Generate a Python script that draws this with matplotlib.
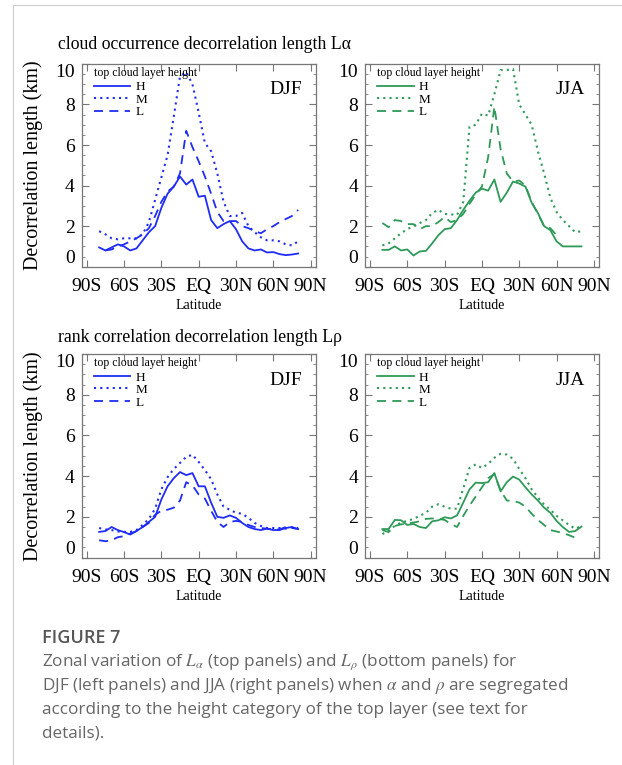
import numpy as np
import matplotlib.pyplot as plt
from matplotlib.lines import Line2D

plt.rcParams['mathtext.fontset'] = 'stix'

lat = [-80, -75, -70, -65, -60, -55, -50, -45, -40, -35, -30, -25, -20, -15, -10, -5,
       0, 5, 10, 15, 20, 25, 30, 35, 40, 45, 50, 55, 60, 65, 70, 75, 80]
nan = np.nan

# cloud occurrence decorrelation length (km), DJF
la_djf_h = [0.95, 0.8, 0.95, 1.1, 1.0, 0.8, 0.9, 1.3, 1.7, 2.0, 2.9, 3.6, 3.95, 4.45, 4.05, 4.3,
            3.45, 3.5, 2.3, 1.9, 2.1, 2.25, 1.85, 1.25, 0.9, 0.8, 0.85, 0.7, 0.72, 0.62, 0.57, 0.6, 0.65]
la_djf_m = [1.75, 1.6, 1.4, 1.35, 1.4, 1.4, 1.4, 1.6, 2.2, 3.3, 4.4, 5.5, 7.4, 9.4, 9.6, 9.0,
            7.6, 6.1, 5.7, 4.6, 3.2, 2.5, 2.5, 2.65, 2.0, 1.7, 1.45, 1.3, 1.3, 1.25, 1.1, 1.05, 1.25]
la_djf_l = [nan, 0.8, 0.85, 1.0, 1.1, 1.25, 1.4, 1.6, 1.9, 2.5, 3.2, 3.7, 3.95, 4.6, 6.7, 5.9,
            5.2, 4.45, 3.6, 2.7, 2.25, 2.25, 2.25, 2.0, 1.9, 1.75, 1.65, 1.85, 2.0, 2.2, 2.35, 2.5, 2.8]

# cloud occurrence decorrelation length (km), JJA
la_jja_h = [0.83, 0.83, 1.0, 0.8, 0.85, 0.55, 0.75, 0.78, 1.15, 1.55, 1.85, 1.9, 2.3, 2.8, 3.25, 3.65,
            3.85, 3.75, 4.3, 3.2, 3.65, 4.2, 4.1, 3.95, 3.15, 2.65, 2.0, 1.8, 1.25, 1.0, 1.0, 1.0, 1.0]
la_jja_m = [1.05, 1.15, 1.4, 1.65, 1.85, 2.0, 2.15, 2.3, 2.65, 2.8, 2.6, 2.58, 2.55, 3.2, 6.9, 7.0,
            7.55, 7.45, 8.5, 9.7, 9.7, 9.75, 8.0, 7.5, 7.0, 5.7, 4.6, 3.4, 2.7, 2.3, 2.0, 1.7, 1.75]
la_jja_l = [2.15, 1.95, 2.3, 2.25, 2.1, 2.1, 1.85, 2.0, 2.0, 2.2, 2.45, 2.2, 2.3, 2.6, 3.1, 3.55,
            3.95, 5.4, 7.9, 5.8, 4.6, 4.2, 4.25, 4.0, 3.2, 2.6, 2.0, 1.9, 1.55, nan, nan, nan, nan]

# rank correlation decorrelation length (km), DJF
lr_djf_h = [1.26, 1.3, 1.5, 1.35, 1.25, 1.13, 1.3, 1.5, 1.75, 2.0, 2.85, 3.5, 3.9, 4.2, 4.05, 4.15,
            3.5, 3.5, 2.7, 2.0, 1.95, 2.07, 1.95, 1.7, 1.5, 1.4, 1.35, 1.42, 1.35, 1.35, 1.45, 1.5, 1.4]
lr_djf_m = [1.45, 1.38, 1.35, 1.28, 1.26, 1.26, 1.35, 1.6, 1.9, 2.4, 3.35, 3.95, 4.35, 4.65, 4.95, 5.05,
            4.7, 4.3, 3.85, 3.1, 2.5, 2.35, 2.2, 2.15, 1.95, 1.7, 1.55, 1.45, 1.45, 1.45, 1.42, 1.48, 1.45]
lr_djf_l = [0.85, 0.8, 0.85, 1.0, 1.05, 1.18, 1.3, 1.5, 1.7, 2.1, 2.3, 2.35, 2.45, 2.8, 3.7, 3.55,
            3.1, 2.9, 2.3, 1.75, 1.5, 1.75, 1.8, 1.75, 1.6, 1.5, 1.45, 1.42, 1.38, 1.38, 1.5, 1.45, 1.4]

# rank correlation decorrelation length (km), JJA
lr_jja_h = [1.4, 1.4, 1.85, 1.83, 1.6, 1.65, 1.5, 1.45, 1.78, 1.83, 1.98, 1.92, 2.07, 2.7, 3.35, 3.68,
            3.66, 3.7, 4.15, 3.25, 3.7, 3.98, 3.83, 3.45, 3.1, 2.8, 2.45, 2.2, 1.8, 1.5, 1.26, 1.3, 1.52]
lr_jja_m = [1.15, 1.35, 1.55, 1.72, 1.8, 1.9, 2.05, 2.2, 2.5, 2.62, 2.5, 2.4, 2.4, 3.4, 4.4, 4.58,
            4.4, 4.6, 4.9, 5.1, 5.06, 4.85, 4.35, 3.9, 3.35, 2.95, 2.6, 2.35, 2.05, 1.83, 1.6, 1.42, 1.55]
lr_jja_l = [1.35, 1.25, 1.55, 1.63, 1.67, 1.72, 1.78, 1.9, 1.92, 1.9, 1.85, 1.65, 1.5, 2.05, 2.55, 3.0,
            3.45, 3.9, 4.1, 3.3, 2.8, 2.78, 2.7, 2.5, 2.15, 1.85, 1.6, 1.35, 1.28, 1.2, 1.1, 0.97, nan]

xticks = [-90, -60, -30, 0, 30, 60, 90]
xticklabels = ['90S', '60S', '30S', 'EQ', '30N', '60N', '90N']
yticks = [0, 2, 4, 6, 8, 10]
heights = ['H', 'M', 'L']

blue = '#1f2cf5'
green = '#2e9a58'
serif = 'Liberation Serif'
styles = ['-', (0, (1, 2)), (0, (5, 3.5))]
widths = [1.3, 1.5, 1.3]

fig = plt.figure(figsize=(6.22, 7.65), dpi=100)

panels = [
    ([0.1314, 0.6514, 0.376, 0.265], [la_djf_h, la_djf_m, la_djf_l], blue, 'DJF', True),
    ([0.5868, 0.6514, 0.376, 0.265], [la_jja_h, la_jja_m, la_jja_l], green, 'JJA', False),
    ([0.1314, 0.2712, 0.376, 0.266], [lr_djf_h, lr_djf_m, lr_djf_l], blue, 'DJF', True),
    ([0.5868, 0.2712, 0.376, 0.266], [lr_jja_h, lr_jja_m, lr_jja_l], green, 'JJA', False),
]

for rect, series, color, season, left in panels:
    ax = fig.add_axes(rect)
    for vals, ls, lw, name in zip(series, styles, widths, heights):
        ax.plot(lat, vals, color=color, linestyle=ls, linewidth=lw, label=name)
    ax.set_xlim(-94, 94)
    ax.set_ylim(0, 10)
    ax.set_xticks(xticks)
    ax.set_xticklabels(xticklabels, fontfamily=serif, fontsize=14)
    ax.set_yticks(yticks)
    ylabs = ax.set_yticklabels([str(v) for v in yticks], fontfamily=serif, fontsize=14)
    ylabs[0].set_va('bottom')
    ylabs[-1].set_va('top')
    ax.set_yticks(np.arange(0, 10.01, 0.5), minor=True)
    ax.tick_params(direction='in', top=True, right=True, colors='#777777', labelcolor='black',
                   length=5, width=0.8)
    ax.tick_params(axis='x', pad=8)
    ax.tick_params(axis='y', pad=5)
    ax.tick_params(which='minor', direction='in', right=True, length=2.5, width=0.6, colors='#777777')
    for sp in ax.spines.values():
        sp.set_color('#777777')
        sp.set_linewidth(0.9)
    ax.set_xlabel('Latitude', fontfamily=serif, fontsize=10, labelpad=3)
    if left:
        ax.set_ylabel('Decorrelation length (km)', fontfamily=serif, fontsize=14.5)
        ax.yaxis.set_label_coords(-0.165, 0.5)
    ax.text(0.94, 0.872, season, transform=ax.transAxes, ha='right', va='center',
            fontfamily=serif, fontsize=14)
    ax.text(0.0525, 0.955, 'top cloud layer height', transform=ax.transAxes, ha='left',
            va='center', fontfamily=serif, fontsize=8.5)
    ax.legend(loc='upper left', bbox_to_anchor=(0.0525, 0.915), frameon=False,
              prop={'family': serif, 'size': 9.5},
              handlelength=2.75, handletextpad=0.4, labelspacing=0.02,
              borderaxespad=0, borderpad=0)

fig.text(0.0932, 0.9412, 'cloud occurrence decorrelation length L\u03b1',
         fontfamily=serif, fontsize=12.8, va='center')
fig.text(0.0932, 0.5582, 'rank correlation decorrelation length L\u03c1',
         fontfamily=serif, fontsize=12.8, va='center')

# caption
fig.text(42 / 622, 1 - 638 / 765, 'FIGURE 7', fontfamily='Open Sans', fontweight='semibold',
         fontsize=13, color='#555555', va='center')
caption = [
    r'Zonal variation of $L_\alpha$ (top panels) and $L_\rho$ (bottom panels) for',
    r'DJF (left panels) and JJA (right panels) when $\alpha$ and $\rho$ are segregated',
    'according to the height category of the top layer (see text for',
    'details).',
]
for i, line in enumerate(caption):
    fig.text(42 / 622, 1 - (662 + 23.8 * i) / 765, line, fontfamily='Open Sans',
             fontsize=12.3, color='#666666', va='center')

# thin page frame
fig.add_artist(Line2D([13 / 622, 13 / 622], [0, 1 - 5 / 765], transform=fig.transFigure,
                      color='#cccccc', linewidth=0.8))
fig.add_artist(Line2D([13 / 622, 1], [1 - 5 / 765, 1 - 5 / 765], transform=fig.transFigure,
                      color='#cccccc', linewidth=0.8))

fig.savefig('out.png', dpi=100)
